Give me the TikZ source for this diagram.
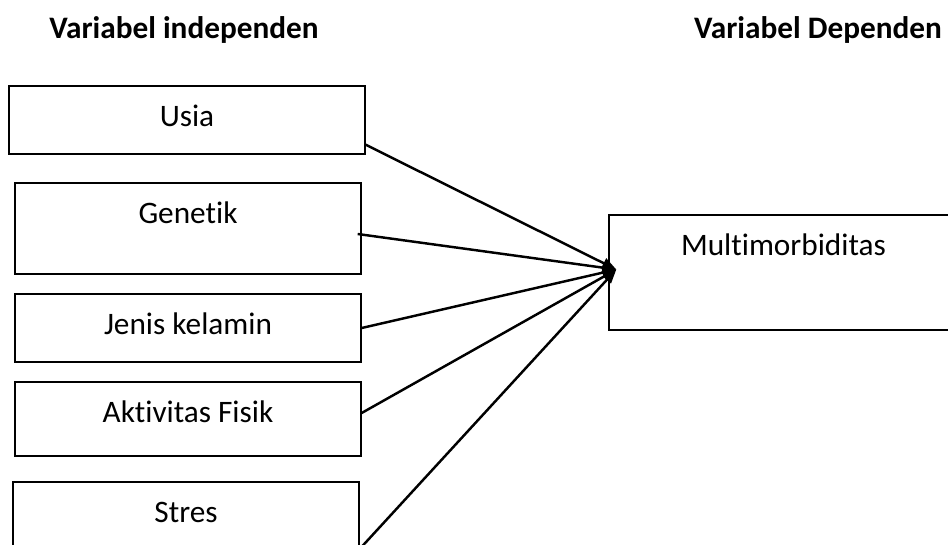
\documentclass[tikz,border=0pt]{standalone}
\usepackage{fontspec}
\setmainfont{Carlito}[Ligatures=NoCommon]
\usetikzlibrary{arrows.meta,calc}

\begin{document}
\begin{tikzpicture}[
    x=0.02cm, y=-0.02cm,
    box/.style={rectangle, draw=black, line width=0.8pt, fill=white,
        inner sep=0pt, text height=11pt, font=\fontsize{17.8}{21}\selectfont},
    title/.style={font=\fontsize{17.8}{21}\selectfont\bfseries},
    edge/.style={line width=1.4pt, -{Triangle[length=8pt, width=6pt]}}
]
    \useasboundingbox (0,0) rectangle (948,545);
    \clip (0,0) rectangle (948,545);
    \node[title] (indep) at (184,30) {Variabel independen};
    \node[title] (dep) at (818,30) {Variabel Dependen};
    \node[box, minimum width=7.12cm, minimum height=1.36cm, text depth=3.4pt] (usia) at (187,120) {Usia};
    \node[box, minimum width=6.92cm, minimum height=1.82cm, text depth=16.5pt] (genetik) at (188,228.5) {Genetik};
    \node[box, minimum width=6.92cm, minimum height=1.36cm, text depth=3.4pt] (jenis) at (188,328) {Jenis kelamin};
    \node[box, minimum width=6.92cm, minimum height=1.48cm, text depth=6.8pt] (aktivitas) at (188,419) {Aktivitas Fisik};
    \node[box, minimum width=6.92cm, minimum height=1.82cm, text depth=16.5pt] (stres) at (186,527.5) {Stres};
    \node[box, minimum width=6.98cm, minimum height=2.3cm, text depth=30.7pt] (multi) at (783.5,272.5) {Multimorbiditas};
    \coordinate (tip) at ($(multi.west)+(8,-3)$);
    \draw[edge] ($(usia.south east)+(0,-10)$) -- (tip);
    \draw[edge] ($(genetik.east)+(-4,5.5)$) -- (tip);
    \draw[edge] (jenis.east) -- (tip);
    \draw[edge] ($(aktivitas.east)+(0,-6)$) -- (tip);
    \draw[edge] ($(stres.east)+(0,21.5)$) -- (tip);
\end{tikzpicture}
\end{document}
